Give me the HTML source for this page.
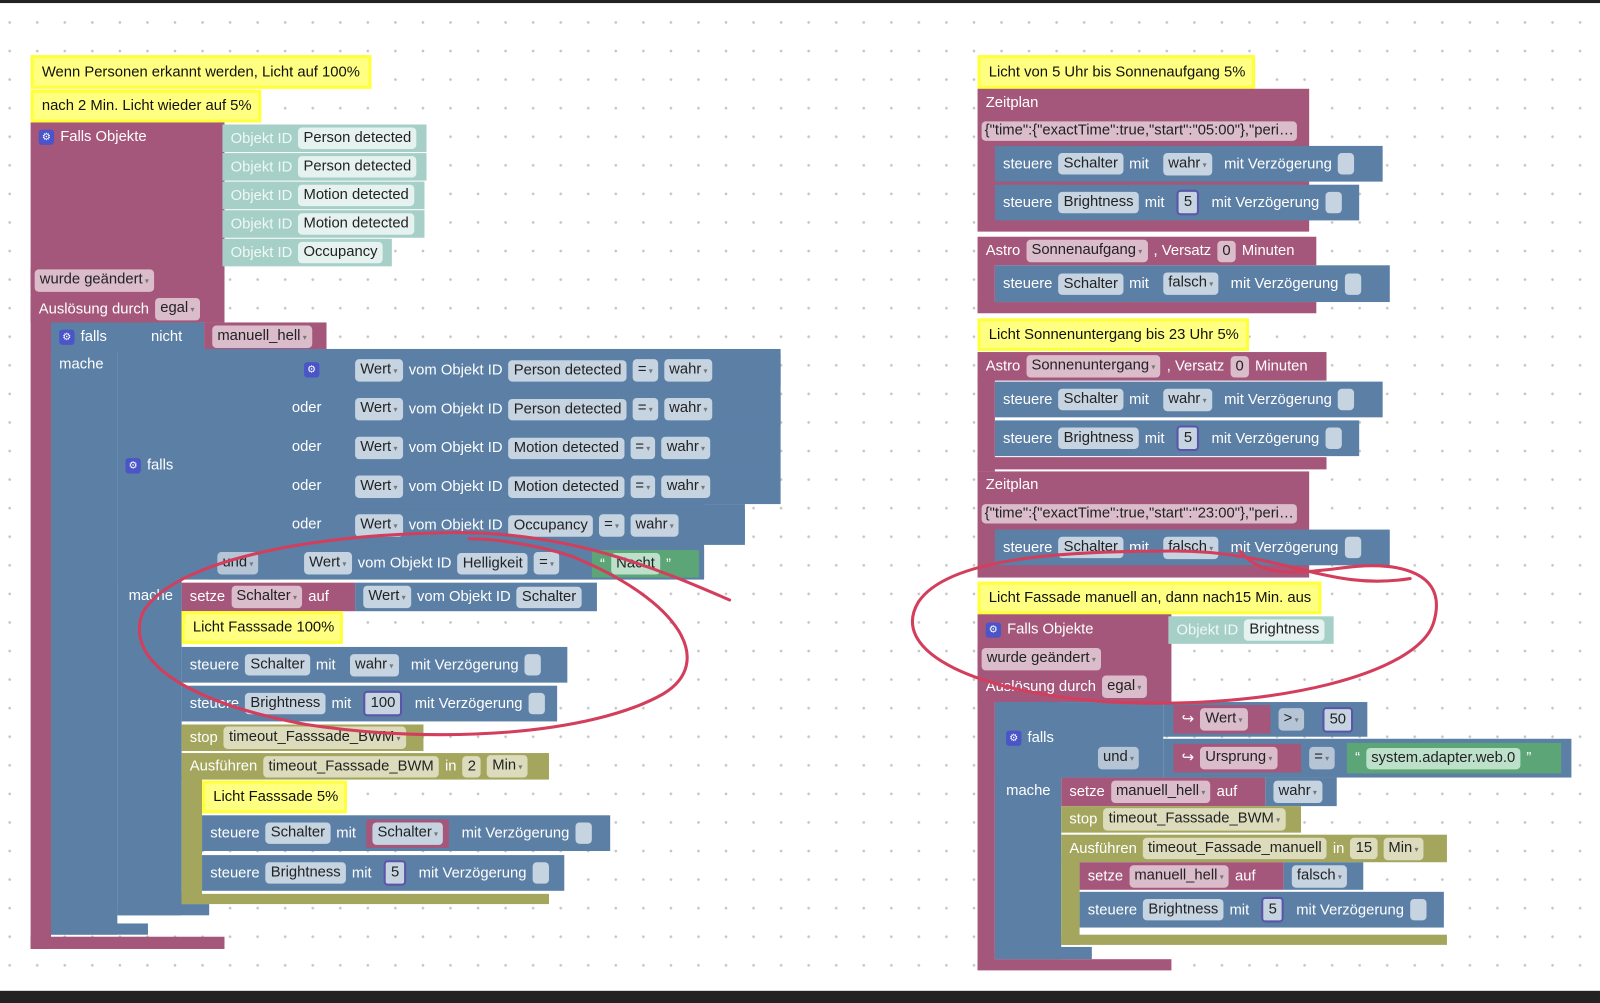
<!DOCTYPE html>
<html><head><meta charset="utf-8"><style>
html,body{margin:0;padding:0;width:1600px;height:1001px;overflow:hidden;background:#fff}
#w{position:absolute;left:0;top:0;width:1568px;height:981px;transform:scale(1.0204);transform-origin:0 0;
background-color:#fff;background-image:radial-gradient(circle,#c4c4c4 1.1px,transparent 1.5px);background-size:27px 28px;background-position:-4px 8px;
font-family:"Liberation Sans",sans-serif;font-size:14.5px}
.r{position:absolute;display:flex;align-items:center;gap:6px;padding-left:8px;box-sizing:border-box;color:#fff;white-space:nowrap}
.b{position:absolute}
.m{background:#a5577b}.u{background:#5b7fa5}.o{background:#a3a65c}.te{background:#a6cfc8}.g{background:#5ba577}
.c{background:#ffff82;border:3px solid #ffff3c;color:#111;box-sizing:border-box}
i{font-style:normal;color:#222;background:rgba(255,255,255,.55);border-radius:4px;padding:2px 5px;line-height:17px}
.m i{background:#dbbccb}.u i{background:#c6d3e1}.o i{background:#dcdcbc}.te i{background:#e6f2ef}
i.mm{background:#dbbccb}i.nb{background:#c6d3e1;border:2px solid #5a55a8}
.dd:after{content:" ▾";font-size:8px;color:#777}
.gr{color:#eef8f5}
.ic{display:inline-block;width:15px;height:15px;background:#4a55c8;border-radius:3px;color:#fff;font-size:10px;text-align:center;line-height:15px}
</style></head><body><div id="w">
<div class="b" style="left:0;top:0;width:1568px;height:3px;background:#222"></div>
<div class="b" style="left:0;top:971px;width:1568px;height:12px;background:#222"></div>

<!-- LEFT -->
<div class="r c" style="left:30px;top:54px;width:334px;height:33px">Wenn Personen erkannt werden, Licht auf 100%</div>
<div class="r c" style="left:30px;top:88px;width:226px;height:32px">nach 2 Min. Licht wieder auf 5%</div>
<div class="b m" style="left:30px;top:120px;width:190px;height:196px"></div>
<div class="b m" style="left:30px;top:300px;width:20px;height:630px"></div>
<div class="b m" style="left:30px;top:918px;width:190px;height:12px"></div>
<div class="r" style="left:30px;top:122px;height:24px"><span class="ic">⚙</span>Falls Objekte</div>
<div class="r te" style="left:218px;top:122px;width:200px;height:27px"><span class="gr">Objekt ID</span><i>Person detected</i></div>
<div class="r te" style="left:218px;top:150px;width:200px;height:27px"><span class="gr">Objekt ID</span><i>Person detected</i></div>
<div class="r te" style="left:218px;top:178px;width:198px;height:27px"><span class="gr">Objekt ID</span><i>Motion detected</i></div>
<div class="r te" style="left:218px;top:206px;width:198px;height:27px"><span class="gr">Objekt ID</span><i>Motion detected</i></div>
<div class="r te" style="left:218px;top:234px;width:166px;height:27px"><span class="gr">Objekt ID</span><i>Occupancy</i></div>
<div class="r m" style="left:30px;top:262px;padding-left:4px;height:26px"><i class="dd">wurde geändert</i></div>
<div class="r m" style="left:30px;top:290px;height:26px">Auslösung durch <i class="dd">egal</i></div>

<div class="b u" style="left:50px;top:316px;width:150px;height:28px"></div>
<div class="b u" style="left:50px;top:316px;width:65px;height:600px"></div>
<div class="b u" style="left:50px;top:905px;width:95px;height:11px"></div>
<div class="r" style="left:50px;top:317px;height:26px"><span class="ic">⚙</span>falls</div>
<div class="r" style="left:140px;top:317px;height:26px">nicht</div>
<div class="r m" style="left:200px;top:316px;width:120px;height:28px"><i class="dd">manuell_hell</i></div>
<div class="r" style="left:50px;top:345px;height:24px">mache</div>

<div class="b u" style="left:115px;top:342px;width:160px;height:226px"></div>
<div class="b u" style="left:115px;top:342px;width:63px;height:555px"></div>
<div class="b u" style="left:115px;top:886px;width:90px;height:11px"></div>
<div class="r" style="left:115px;top:444px;height:24px"><span class="ic">⚙</span>falls</div>
<div class="b u" style="left:205px;top:342px;width:485px;height:226px"></div>
<div class="b u" style="left:275px;top:342px;width:490px;height:152px"></div>
<div class="b u" style="left:275px;top:494px;width:455px;height:40px"></div>
<div class="r" style="left:290px;top:350px;height:24px"><span class="ic">⚙</span></div>
<div class="r" style="left:278px;top:388px;height:24px">oder</div>
<div class="r" style="left:278px;top:426px;height:24px">oder</div>
<div class="r" style="left:278px;top:464px;height:24px">oder</div>
<div class="r" style="left:278px;top:502px;height:24px">oder</div>
<div class="r u" style="left:340px;top:347px;width:425px;height:32px"><i class="dd">Wert</i>vom Objekt ID<i>Person detected</i><i class="dd">=</i><i class="dd">wahr</i></div>
<div class="r u" style="left:340px;top:385px;width:425px;height:32px"><i class="dd">Wert</i>vom Objekt ID<i>Person detected</i><i class="dd">=</i><i class="dd">wahr</i></div>
<div class="r u" style="left:340px;top:423px;width:420px;height:32px"><i class="dd">Wert</i>vom Objekt ID<i>Motion detected</i><i class="dd">=</i><i class="dd">wahr</i></div>
<div class="r u" style="left:340px;top:461px;width:420px;height:32px"><i class="dd">Wert</i>vom Objekt ID<i>Motion detected</i><i class="dd">=</i><i class="dd">wahr</i></div>
<div class="r u" style="left:340px;top:499px;width:390px;height:32px"><i class="dd">Wert</i>vom Objekt ID<i>Occupancy</i><i class="dd">=</i><i class="dd">wahr</i></div>
<div class="r" style="left:205px;top:540px;height:24px"><i class="dd">und</i></div>
<div class="r u" style="left:290px;top:537px;width:400px;height:30px"><i class="dd">Wert</i>vom Objekt ID<i>Helligkeit</i><i class="dd">=</i></div>
<div class="r g" style="left:580px;top:539px;width:105px;height:27px">“<i style="background:#bde0cb">Nacht</i>”</div>

<div class="r" style="left:118px;top:572px;height:24px">mache</div>
<div class="r m" style="left:178px;top:571px;width:170px;height:28px">setze<i class="dd">Schalter</i>auf</div>
<div class="r u" style="left:348px;top:571px;width:237px;height:28px"><i class="dd">Wert</i>vom Objekt ID<i>Schalter</i></div>
<div class="r c" style="left:178px;top:599px;width:158px;height:32px">Licht Fasssade 100%</div>
<div class="r u" style="left:178px;top:634px;width:378px;height:35px">steuere<i>Schalter</i>mit<i class="dd" style="margin-left:8px">wahr</i><span style="margin-left:6px">mit Verzögerung</span><i style="padding:2px 6px">&nbsp;</i></div>
<div class="r u" style="left:178px;top:672px;width:368px;height:35px">steuere<i>Brightness</i>mit<i class="nb" style="margin-left:6px">100</i><span style="margin-left:6px">mit Verzögerung</span><i style="padding:2px 6px">&nbsp;</i></div>
<div class="r o" style="left:178px;top:710px;width:237px;height:26px">stop<i class="dd">timeout_Fasssade_BWM</i></div>
<div class="r o" style="left:178px;top:738px;width:360px;height:26px">Ausführen<i>timeout_Fasssade_BWM</i>in<i>2</i><i class="dd">Min</i></div>
<div class="b o" style="left:178px;top:760px;width:20px;height:126px"></div>
<div class="b o" style="left:178px;top:876px;width:360px;height:10px"></div>
<div class="r c" style="left:198px;top:765px;width:142px;height:32px">Licht Fasssade 5%</div>
<div class="r u" style="left:198px;top:799px;width:400px;height:35px">steuere<i>Schalter</i>mit<span class="r m" style="position:relative;padding:3px 6px;margin-left:4px"><i class="dd">Schalter</i></span><span style="margin-left:6px">mit Verzögerung</span><i style="padding:2px 6px">&nbsp;</i></div>
<div class="r u" style="left:198px;top:838px;width:355px;height:35px">steuere<i>Brightness</i>mit<i class="nb" style="margin-left:6px">5</i><span style="margin-left:6px">mit Verzögerung</span><i style="padding:2px 6px">&nbsp;</i></div>

<!-- RIGHT -->
<div class="r c" style="left:958px;top:54px;width:272px;height:33px">Licht von 5 Uhr bis Sonnenaufgang 5%</div>
<div class="b m" style="left:958px;top:87px;width:325px;height:140px"></div>
<div class="r" style="left:958px;top:89px;height:24px">Zeitplan</div>
<div class="r" style="left:958px;top:117px;padding-left:4px;height:22px"><i class="mm" style="padding:1px 3px">{"time":{"exactTime":true,"start":"05:00"},"peri…</i></div>
<div class="r u" style="left:975px;top:143px;width:380px;height:35px">steuere<i>Schalter</i>mit<i class="dd" style="margin-left:8px">wahr</i><span style="margin-left:6px">mit Verzögerung</span><i style="padding:2px 6px">&nbsp;</i></div>
<div class="r u" style="left:975px;top:181px;width:357px;height:35px">steuere<i>Brightness</i>mit<i class="nb" style="margin-left:6px">5</i><span style="margin-left:6px">mit Verzögerung</span><i style="padding:2px 6px">&nbsp;</i></div>
<div class="r m" style="left:958px;top:232px;width:332px;height:28px">Astro<i class="dd">Sonnenaufgang</i>, Versatz<i>0</i>Minuten</div>
<div class="b m" style="left:958px;top:258px;width:17px;height:48px"></div>
<div class="b m" style="left:958px;top:296px;width:332px;height:11px"></div>
<div class="r u" style="left:975px;top:260px;width:387px;height:36px">steuere<i>Schalter</i>mit<i class="dd" style="margin-left:8px">falsch</i><span style="margin-left:6px">mit Verzögerung</span><i style="padding:2px 6px">&nbsp;</i></div>
<div class="r c" style="left:958px;top:312px;width:266px;height:32px">Licht Sonnenuntergang bis 23 Uhr 5%</div>
<div class="r m" style="left:958px;top:345px;width:342px;height:28px">Astro<i class="dd">Sonnenuntergang</i>, Versatz<i>0</i>Minuten</div>
<div class="b m" style="left:958px;top:370px;width:17px;height:92px"></div>
<div class="b m" style="left:958px;top:448px;width:342px;height:12px"></div>
<div class="r u" style="left:975px;top:374px;width:380px;height:35px">steuere<i>Schalter</i>mit<i class="dd" style="margin-left:8px">wahr</i><span style="margin-left:6px">mit Verzögerung</span><i style="padding:2px 6px">&nbsp;</i></div>
<div class="r u" style="left:975px;top:412px;width:357px;height:35px">steuere<i>Brightness</i>mit<i class="nb" style="margin-left:6px">5</i><span style="margin-left:6px">mit Verzögerung</span><i style="padding:2px 6px">&nbsp;</i></div>
<div class="b m" style="left:958px;top:462px;width:325px;height:104px"></div>
<div class="r" style="left:958px;top:463px;height:24px">Zeitplan</div>
<div class="r" style="left:958px;top:492px;padding-left:4px;height:22px"><i class="mm" style="padding:1px 3px">{"time":{"exactTime":true,"start":"23:00"},"peri…</i></div>
<div class="r u" style="left:975px;top:519px;width:387px;height:35px">steuere<i>Schalter</i>mit<i class="dd" style="margin-left:8px">falsch</i><span style="margin-left:6px">mit Verzögerung</span><i style="padding:2px 6px">&nbsp;</i></div>
<div class="r c" style="left:958px;top:570px;width:337px;height:32px">Licht Fassade manuell an, dann nach15 Min. aus</div>
<div class="b m" style="left:958px;top:602px;width:190px;height:86px"></div>
<div class="b m" style="left:958px;top:686px;width:17px;height:264px"></div>
<div class="b m" style="left:958px;top:940px;width:190px;height:11px"></div>
<div class="r" style="left:958px;top:605px;height:24px"><span class="ic">⚙</span>Falls Objekte</div>
<div class="r te" style="left:1145px;top:604px;width:162px;height:27px"><span class="gr">Objekt ID</span><i>Brightness</i></div>
<div class="r m" style="left:958px;top:633px;padding-left:4px;height:26px"><i class="dd">wurde geändert</i></div>
<div class="r m" style="left:958px;top:660px;height:26px">Auslösung durch <i class="dd">egal</i></div>
<div class="b u" style="left:975px;top:688px;width:165px;height:74px"></div>
<div class="b u" style="left:975px;top:688px;width:65px;height:252px"></div>
<div class="b u" style="left:975px;top:928px;width:95px;height:12px"></div>
<div class="r" style="left:978px;top:711px;height:24px"><span class="ic">⚙</span>falls</div>
<div class="r" style="left:1068px;top:731px;height:24px"><i class="dd">und</i></div>
<div class="r" style="left:978px;top:763px;height:24px">mache</div>
<div class="b u" style="left:1140px;top:688px;width:200px;height:34px"></div>
<div class="b u" style="left:1140px;top:724px;width:400px;height:38px"></div>
<div class="r m" style="left:1150px;top:691px;width:95px;height:28px">↪<i class="mm dd">Wert</i></div>
<div class="r" style="left:1245px;top:692px;height:26px"><i class="dd">&gt;</i></div>
<div class="r" style="left:1288px;top:692px;height:26px"><i class="nb">50</i></div>
<div class="r m" style="left:1150px;top:729px;width:125px;height:28px">↪<i class="mm dd">Ursprung</i></div>
<div class="r" style="left:1275px;top:730px;height:26px"><i class="dd">=</i></div>
<div class="r g" style="left:1320px;top:728px;width:210px;height:30px">“<i style="background:#bde0cb">system.adapter.web.0</i>”</div>
<div class="r m" style="left:1040px;top:762px;width:200px;height:28px">setze<i class="dd">manuell_hell</i>auf</div>
<div class="r u" style="left:1240px;top:762px;width:70px;height:28px"><i class="dd">wahr</i></div>
<div class="r o" style="left:1040px;top:790px;width:235px;height:26px">stop<i class="dd">timeout_Fasssade_BWM</i></div>
<div class="r o" style="left:1040px;top:818px;width:378px;height:27px">Ausführen<i>timeout_Fassade_manuell</i>in<i>15</i><i class="dd">Min</i></div>
<div class="b o" style="left:1040px;top:840px;width:18px;height:86px"></div>
<div class="b o" style="left:1040px;top:916px;width:378px;height:10px"></div>
<div class="r m" style="left:1058px;top:845px;width:200px;height:27px">setze<i class="dd">manuell_hell</i>auf</div>
<div class="r u" style="left:1258px;top:845px;width:78px;height:27px"><i class="dd">falsch</i></div>
<div class="r u" style="left:1058px;top:874px;width:357px;height:35px">steuere<i>Brightness</i>mit<i class="nb" style="margin-left:6px">5</i><span style="margin-left:6px">mit Verzögerung</span><i style="padding:2px 6px">&nbsp;</i></div>

<svg class="b" style="left:0;top:0" width="1568" height="981" fill="none" stroke="#d23e5c" stroke-width="3" stroke-linecap="round">
<path d="M715,588 C650,560 560,520 440,522 C300,524 170,550 140,600 C120,650 190,690 300,710 C430,730 580,720 650,680 C700,650 670,590 560,545 C520,532 480,528 460,528"/>
<path d="M1382,567 C1300,580 1260,540 1150,540 C1050,540 930,545 900,590 C870,640 960,680 1090,688 C1250,696 1390,660 1405,610 C1420,560 1370,552 1330,555 C1280,560 1240,570 1215,540"/>
</svg>
</div></body></html>
